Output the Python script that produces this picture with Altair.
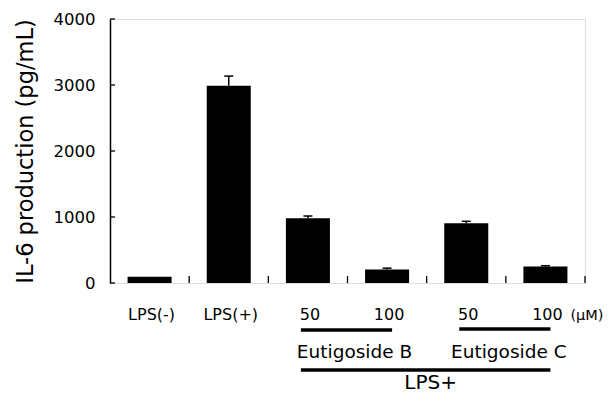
import altair as alt
import pandas as pd

groups = ["LPS(-)", "LPS(+)", "Eutigoside B 50", "Eutigoside B 100", "Eutigoside C 50", "Eutigoside C 100"]
tick_labels = ["LPS(-)", "LPS(+)", "50", "100", "50", "100"]
values = [95, 2990, 980, 205, 905, 250]
errors = [0, 145, 35, 20, 30, 12]
y_ticks = [0, 1000, 2000, 3000, 4000]

FONT = "DejaVu Sans"
W, H = 475, 264

df = pd.DataFrame({"group": groups, "label": tick_labels, "value": values, "err": errors})
df["upper"] = df["value"] + df["err"]
err_df = df[df["err"] > 0]

xscale = alt.Scale(domain=groups, paddingInner=0, paddingOuter=0)
X = lambda **kw: alt.X("group:N", scale=xscale, sort=groups, axis=None, **kw)

base_x_axis = alt.X("group:N", scale=xscale, sort=groups,
                    axis=alt.Axis(labels=False, ticks=False, title=None, domain=True,
                                  domainColor="black", domainWidth=1.5, grid=False))
yscale = alt.Scale(domain=[0, 4000])
y_axis = alt.Axis(values=y_ticks, format="d", ticks=False, labelPadding=15, labelFontSize=16.5,
                  labelFont=FONT, labelColor="black", domainColor="black", domainWidth=1.5, grid=False,
                  title="IL-6 production (pg/mL)", titleFont=FONT, titleFontSize=22.5,
                  titleFontWeight="normal", titleColor="black", titleX=-78, titleY=H / 2,
                  titleAngle=-90, titleAlign="center", titleBaseline="alphabetic")

bars = alt.Chart(df).mark_bar(width=alt.RelativeBandSize(0.556), color="black").encode(
    x=base_x_axis,
    y=alt.Y("value:Q", scale=yscale, axis=y_axis),
)

err_rule = alt.Chart(err_df).mark_rule(color="black", strokeWidth=1.5).encode(
    x=X(), y=alt.Y("value:Q", scale=yscale), y2="upper:Q")
err_cap = alt.Chart(err_df).mark_tick(color="black", size=9, thickness=1.5, opacity=1).encode(
    x=X(), y=alt.Y("upper:Q", scale=yscale))

ytick_df = pd.DataFrame({"t": y_ticks})
y_tick_marks = alt.Chart(ytick_df).mark_rule(color="black", strokeWidth=1.3).encode(
    y=alt.Y("t:Q", scale=yscale), x=alt.value(0), x2=alt.value(5))

x_tick_marks = alt.Chart(df).mark_rule(color="black", strokeWidth=1.3).encode(
    x=X(bandPosition=1), y=alt.value(H - 7), y2=alt.value(H))

x_labels = alt.Chart(df).mark_text(font=FONT, fontSize=16, color="black", baseline="alphabetic",
                                   dx=2).encode(
    x=X(), y=alt.value(301), text="label:N")

unit_df = pd.DataFrame({"group": [groups[-1]], "label": ["(\u03bcM)"]})
unit_text = alt.Chart(unit_df).mark_text(font=FONT, fontSize=14.5, color="black", baseline="alphabetic",
                                         align="left", dx=25).encode(
    x=X(), y=alt.value(301), text="label:N")

# group brackets
line_start = ["Eutigoside B 50", "Eutigoside C 50", "Eutigoside B 50"]
line_end = ["Eutigoside B 100", "Eutigoside C 100", "Eutigoside C 100"]
line_y = [311, 310, 351]
lines_df = pd.DataFrame({"group": line_start, "end": line_end, "ly": line_y})
bracket_lines = alt.Chart(lines_df).mark_rule(color="black", strokeWidth=3.5, xOffset=-7, x2Offset=5).encode(
    x=X(), x2="end:N", y=alt.Y("ly:Q", scale=None))

ann_anchor = ["Eutigoside B 50", "Eutigoside C 50", "Eutigoside B 100"]
ann_text = ["Eutigoside B", "Eutigoside C", "LPS+"]
ann_size = [18.5, 18.5, 20]
ann_y = [339, 339, 370]
ann_dx = [7, 3, 4]
ann_df = pd.DataFrame({"group": ann_anchor, "label": ann_text, "fs": ann_size, "ty": ann_y, "dx": ann_dx})
ann_parts = []
for i in range(len(ann_text)):
    ann_parts.append(
        alt.Chart(ann_df.iloc[[i]]).mark_text(font=FONT, fontSize=ann_size[i], color="black",
                                              baseline="alphabetic", dx=ann_dx[i]).encode(
            x=X(bandPosition=1), y=alt.Y("ty:Q", scale=None), text="label:N"))

chart = alt.layer(bars, err_rule, err_cap, y_tick_marks, x_tick_marks, x_labels, unit_text,
                  bracket_lines, *ann_parts).properties(
    width=W, height=H,
    autosize=alt.AutoSizeParams(type="none"),
    padding={"left": 102, "top": 11, "right": 18, "bottom": 110},
).configure_view(stroke=None).configure(background="white")

chart.save("out.html", embed_options={"renderer": "svg", "actions": False})
